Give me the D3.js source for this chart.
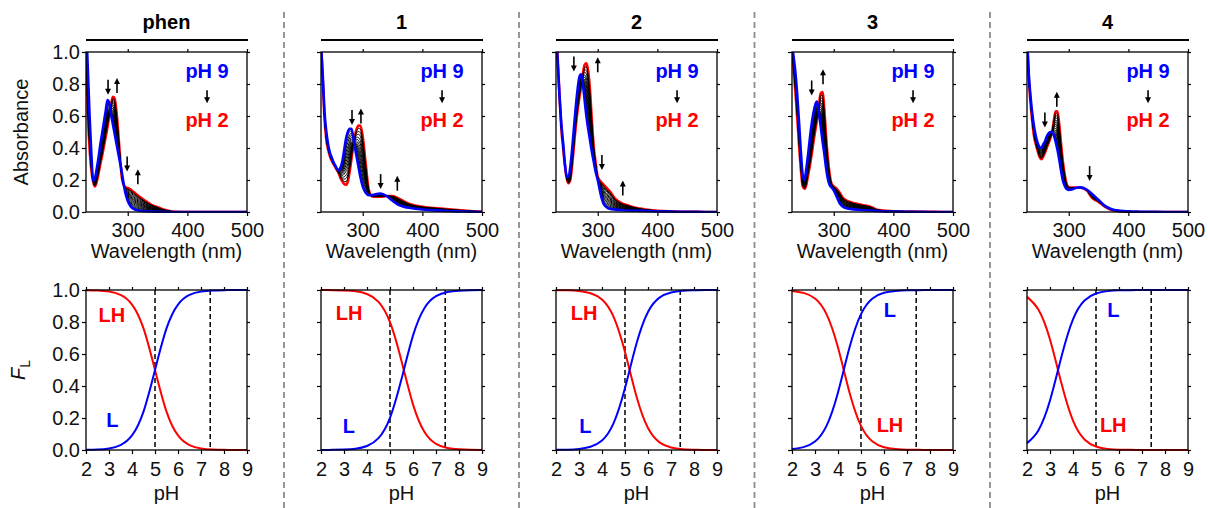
<!DOCTYPE html>
<html>
<head>
<meta charset="utf-8">
<script src="https://cdn.jsdelivr.net/npm/d3@7"></script>
<style>
  body { margin: 0; background: #fff; }
  svg text { font-family: "Liberation Sans", Arial, sans-serif; }
</style>
</head>
<body>
<svg id="chart" width="1208" height="508"></svg>
<script>

// ---- data ----
var panelTitles = ['phen', '1', '2', '3', '4'];

var wavelengths = [230, 233, 236, 239, 242, 245, 248, 251, 254, 257, 260, 263, 266, 269, 272, 275, 278, 281, 284, 287,
  290, 293, 296, 300, 305, 310, 315, 320, 330, 340, 350, 360, 370, 380, 400, 420, 440, 460, 480, 500];

// absorbance at pH 9 (blue) and pH 2 (red)
var absPhenPH9 = [1.20, 0.90, 0.60, 0.36, 0.195, 0.21, 0.27, 0.34, 0.42, 0.49, 0.56, 0.63, 0.70, 0.68, 0.61, 0.55, 0.49, 0.43, 0.37, 0.31,
  0.25, 0.18, 0.12, 0.07, 0.035, 0.02, 0.012, 0.008, 0.005, 0.003, 0.002, 0.001, 0, 0, 0, 0, 0, 0, 0, 0];
var absPhenPH2 = [1.05, 0.62, 0.40, 0.26, 0.19, 0.16, 0.19, 0.24, 0.30, 0.35, 0.41, 0.47, 0.53, 0.60, 0.67, 0.72, 0.71, 0.63, 0.50, 0.35,
  0.22, 0.17, 0.155, 0.15, 0.14, 0.125, 0.11, 0.095, 0.068, 0.045, 0.03, 0.015, 0.006, 0.002, 0, 0, 0, 0, 0, 0];

var abs1PH9 = [1.05, 0.85, 0.62, 0.50, 0.42, 0.37, 0.34, 0.31, 0.29, 0.27, 0.26, 0.28, 0.32, 0.39, 0.46, 0.50, 0.52, 0.52, 0.47, 0.40,
  0.34, 0.28, 0.22, 0.16, 0.12, 0.105, 0.105, 0.11, 0.115, 0.10, 0.07, 0.045, 0.032, 0.025, 0.016, 0.010, 0.006, 0.004, 0.002, 0];
var abs1PH2 = [1.05, 0.82, 0.58, 0.45, 0.39, 0.35, 0.32, 0.30, 0.28, 0.26, 0.24, 0.21, 0.19, 0.175, 0.17, 0.19, 0.25, 0.33, 0.41, 0.48,
  0.52, 0.54, 0.54, 0.47, 0.30, 0.14, 0.10, 0.095, 0.095, 0.10, 0.10, 0.085, 0.065, 0.048, 0.032, 0.025, 0.018, 0.012, 0.006, 0.002];

var abs2PH9 = [1.15, 0.92, 0.72, 0.55, 0.43, 0.30, 0.22, 0.22, 0.28, 0.39, 0.52, 0.65, 0.76, 0.84, 0.86, 0.80, 0.70, 0.60, 0.52, 0.45,
  0.38, 0.32, 0.26, 0.20, 0.11, 0.05, 0.03, 0.02, 0.015, 0.012, 0.009, 0.008, 0.007, 0.006, 0.004, 0.003, 0.002, 0.001, 0, 0];
var abs2PH2 = [1.20, 0.95, 0.72, 0.52, 0.40, 0.29, 0.21, 0.18, 0.20, 0.29, 0.41, 0.53, 0.63, 0.71, 0.78, 0.86, 0.92, 0.93, 0.88, 0.76,
  0.58, 0.42, 0.32, 0.22, 0.19, 0.17, 0.15, 0.13, 0.08, 0.055, 0.042, 0.03, 0.022, 0.015, 0.008, 0.004, 0.002, 0.001, 0, 0];

var abs3PH9 = [1.05, 0.96, 0.86, 0.72, 0.55, 0.37, 0.23, 0.20, 0.27, 0.36, 0.46, 0.55, 0.62, 0.67, 0.69, 0.62, 0.54, 0.45, 0.37, 0.28,
  0.21, 0.17, 0.155, 0.135, 0.095, 0.055, 0.035, 0.025, 0.018, 0.014, 0.011, 0.009, 0.007, 0.005, 0.003, 0.002, 0.001, 0, 0, 0];
var abs3PH2 = [1.00, 0.88, 0.74, 0.58, 0.41, 0.26, 0.16, 0.145, 0.17, 0.23, 0.29, 0.36, 0.44, 0.51, 0.58, 0.66, 0.74, 0.75, 0.65, 0.48,
  0.34, 0.24, 0.18, 0.16, 0.145, 0.12, 0.09, 0.075, 0.06, 0.05, 0.042, 0.035, 0.018, 0.01, 0.005, 0.003, 0.002, 0.001, 0, 0];

var abs4PH9 = [1.10, 0.86, 0.72, 0.61, 0.53, 0.47, 0.43, 0.405, 0.40, 0.42, 0.44, 0.47, 0.49, 0.50, 0.50, 0.48, 0.44, 0.39, 0.33, 0.26,
  0.20, 0.165, 0.145, 0.138, 0.14, 0.148, 0.153, 0.154, 0.14, 0.11, 0.075, 0.04, 0.02, 0.01, 0.004, 0.002, 0.001, 0, 0, 0];
var abs4PH2 = [1.10, 0.84, 0.68, 0.56, 0.47, 0.42, 0.38, 0.345, 0.33, 0.345, 0.37, 0.40, 0.43, 0.46, 0.50, 0.57, 0.63, 0.63, 0.55, 0.43,
  0.32, 0.24, 0.18, 0.155, 0.153, 0.153, 0.153, 0.152, 0.135, 0.085, 0.063, 0.035, 0.015, 0.007, 0.002, 0, 0, 0, 0, 0];

// share of the pH 2 spectrum in the intermediate (black) titration spectra
var titrationMix = [0.07, 0.14, 0.21, 0.29, 0.36, 0.43, 0.5, 0.57, 0.64, 0.71, 0.79, 0.86, 0.93];

// fraction of species vs pH
var phValues = [2, 2.5, 3, 3.5, 4, 4.5, 5, 5.5, 6, 6.5, 7, 7.5, 8, 8.5, 9];
var fracLPhen = [0.001, 0.003, 0.010, 0.031, 0.091, 0.240, 0.500, 0.760, 0.909, 0.969, 0.990, 0.997, 0.999, 1.000, 1.000];
var fracLHPhen = [0.999, 0.997, 0.990, 0.969, 0.909, 0.760, 0.500, 0.240, 0.091, 0.031, 0.010, 0.003, 0.001, 0.000, 0.000];
var fracL1 = [0.000, 0.001, 0.003, 0.008, 0.025, 0.074, 0.201, 0.443, 0.715, 0.888, 0.962, 0.988, 0.996, 0.999, 1.000];
var fracLH1 = [1.000, 0.999, 0.997, 0.992, 0.975, 0.926, 0.799, 0.557, 0.285, 0.112, 0.038, 0.012, 0.004, 0.001, 0.000];
var fracL2 = [0.001, 0.002, 0.006, 0.020, 0.059, 0.166, 0.387, 0.666, 0.863, 0.952, 0.984, 0.995, 0.998, 1.000, 1.000];
var fracLH2 = [0.999, 0.998, 0.994, 0.980, 0.941, 0.834, 0.613, 0.334, 0.137, 0.048, 0.016, 0.005, 0.002, 0.000, 0.000];
var fracL3 = [0.006, 0.018, 0.053, 0.151, 0.360, 0.640, 0.849, 0.947, 0.983, 0.994, 0.998, 0.999, 1.000, 1.000, 1.000];
var fracLH3 = [0.994, 0.982, 0.947, 0.849, 0.640, 0.360, 0.151, 0.053, 0.017, 0.006, 0.002, 0.001, 0.000, 0.000, 0.000];
var fracL4 = [0.043, 0.124, 0.309, 0.585, 0.817, 0.934, 0.978, 0.993, 0.998, 0.999, 1.000, 1.000, 1.000, 1.000, 1.000];
var fracLH4 = [0.957, 0.876, 0.691, 0.415, 0.183, 0.066, 0.022, 0.007, 0.002, 0.001, 0.000, 0.000, 0.000, 0.000, 0.000];

var markerPH = [5.0, 7.4];   // dashed reference lines

// ticks
var wlTicks = [300, 400, 500];
var absTicks = [0, 0.2, 0.4, 0.6, 0.8, 1.0];
var phTicks = [2, 3, 4, 5, 6, 7, 8, 9];
var fracTicks = [0, 0.2, 0.4, 0.6, 0.8, 1.0];

// trend arrows on spectra: [wavelength, absorbance, direction]
var arrowsPhen = [[267, 0.78, -1], [282, 0.79, 1], [299, 0.30, -1], [317, 0.22, 1]];
var arrows1 = [[282, 0.59, -1], [297, 0.60, 1], [330, 0.19, -1], [358, 0.18, 1]];
var arrows2 = [[260, 0.925, -1], [300, 0.92, 1], [307, 0.31, -1], [342, 0.15, 1]];
var arrows3 = [[263, 0.775, -1], [282, 0.845, 1]];
var arrows4 = [[260, 0.575, -1], [280, 0.705, 1], [335, 0.24, -1]];

// species labels: [pH, F]
var labelL = [[3.15, 0.146], [3.21, 0.104], [3.28, 0.104], [6.25, 0.833], [5.75, 0.833]];
var labelLH = [[3.12, 0.80], [3.22, 0.81], [3.22, 0.81], [6.26, 0.114], [5.75, 0.114]];

var panels = [
  { pH9: absPhenPH9, pH2: absPhenPH2, L: fracLPhen, LH: fracLHPhen, arrows: arrowsPhen },
  { pH9: abs1PH9, pH2: abs1PH2, L: fracL1, LH: fracLH1, arrows: arrows1 },
  { pH9: abs2PH9, pH2: abs2PH2, L: fracL2, LH: fracLH2, arrows: arrows2 },
  { pH9: abs3PH9, pH2: abs3PH2, L: fracL3, LH: fracLH3, arrows: arrows3 },
  { pH9: abs4PH9, pH2: abs4PH2, L: fracL4, LH: fracLH4, arrows: arrows4 }
];

// ---- layout ----
var panelLeft = [86, 321, 556, 792, 1027];
var plotW = 161;
var topY = [52, 212];
var botY = [290, 450];

var svg = d3.select('#chart');
var BLUE = '#0000ff', RED = '#ff0000';

// dashed separators between panels
for (var s = 1; s < panelLeft.length; s++) {
  var sx = (panelLeft[s - 1] + plotW + panelLeft[s]) / 2;
  svg.append('line')
    .attr('x1', sx).attr('x2', sx).attr('y1', 12).attr('y2', 508)
    .attr('stroke', '#8c8c8c').attr('stroke-width', 1.8)
    .attr('stroke-dasharray', '6,4');
}

function drawArrow(g, x, y, dir, len) {
  // dir -1 = pointing down, 1 = pointing up
  var half = len / 2;
  var tipY = y - dir * half;
  var tailY = y + dir * half;
  var headLen = 6;
  g.append('line')
    .attr('x1', x).attr('x2', x)
    .attr('y1', tailY).attr('y2', tipY + dir * headLen * 0.8)
    .attr('stroke', '#000').attr('stroke-width', 1.6);
  g.append('path')
    .attr('d', 'M' + x + ',' + tipY + 'L' + (x - 3) + ',' + (tipY + dir * headLen) + 'L' + (x + 3) + ',' + (tipY + dir * headLen) + 'Z')
    .attr('fill', '#000');
}

function styleAxis(g) {
  g.select('.domain').remove();
  g.selectAll('line').attr('stroke', '#000').attr('stroke-width', 1.2);
  g.selectAll('text').attr('font-size', 20).attr('fill', '#111')
    .attr('font-family', '"Liberation Sans", Arial, sans-serif');
}

panels.forEach(function (p, i) {
  var x0 = panelLeft[i];
  var g = svg.append('g');

  // ---------- top: absorption spectra ----------
  var xs = d3.scaleLinear().domain([230, 500]).range([x0, x0 + plotW]);
  var ya = d3.scaleLinear().domain([0, 1]).range([topY[1], topY[0]]);

  // title + bracket
  g.append('text').attr('x', x0 + plotW / 2).attr('y', 29)
    .attr('text-anchor', 'middle').attr('font-size', 20).attr('font-weight', 'bold')
    .text(panelTitles[i]);
  g.append('line').attr('x1', x0).attr('x2', x0 + plotW + 1).attr('y1', 40).attr('y2', 40)
    .attr('stroke', '#000').attr('stroke-width', 2);

  var clipId = 'clip' + i;
  svg.append('clipPath').attr('id', clipId).append('rect')
    .attr('x', x0).attr('y', topY[0]).attr('width', plotW).attr('height', topY[1] - topY[0] + 1);

  var specLine = d3.line()
    .x(function (d) { return xs(d[0]); })
    .y(function (d) { return ya(d[1]); })
    .curve(d3.curveMonotoneX);

  var spec = g.append('g').attr('clip-path', 'url(#' + clipId + ')');
  spec.append('path')
    .attr('d', specLine(wavelengths.map(function (w, k) { return [w, p.pH2[k]]; })))
    .attr('fill', 'none').attr('stroke', RED).attr('stroke-width', 2.6);
  titrationMix.forEach(function (f) {
    spec.append('path')
      .attr('d', specLine(wavelengths.map(function (w, k) { return [w, p.pH9[k] * (1 - f) + p.pH2[k] * f]; })))
      .attr('fill', 'none').attr('stroke', '#000').attr('stroke-width', 1);
  });
  spec.append('path')
    .attr('d', specLine(wavelengths.map(function (w, k) { return [w, p.pH9[k]]; })))
    .attr('fill', 'none').attr('stroke', BLUE).attr('stroke-width', 2.6);

  g.append('rect').attr('x', x0).attr('y', topY[0]).attr('width', plotW).attr('height', topY[1] - topY[0])
    .attr('fill', 'none').attr('stroke', '#000').attr('stroke-width', 1.3);

  g.append('g').attr('transform', 'translate(0,' + topY[1] + ')')
    .call(d3.axisBottom(xs).tickValues(wlTicks).tickSize(4).tickPadding(7).tickFormat(d3.format('d')))
    .call(styleAxis);
  g.append('g').attr('transform', 'translate(' + x0 + ',0)')
    .call(d3.axisLeft(ya).tickValues(absTicks).tickSize(4).tickPadding(2)
      .tickFormat(i === 0 ? d3.format('.1f') : function () { return ''; }))
    .call(styleAxis);
  g.append('g').attr('transform', 'translate(' + (x0 + plotW) + ',0)')
    .call(d3.axisRight(ya).tickValues(absTicks).tickSize(3).tickFormat(function () { return ''; }))
    .call(styleAxis);
  g.append('g').attr('transform', 'translate(0,' + topY[0] + ')')
    .call(d3.axisTop(xs).tickValues(wlTicks).tickSize(3).tickFormat(function () { return ''; }))
    .call(styleAxis);

  g.append('text').attr('x', x0 + plotW / 2).attr('y', 258)
    .attr('text-anchor', 'middle').attr('font-size', 20).attr('fill', '#111')
    .text('Wavelength (nm)');

  p.arrows.forEach(function (a) {
    drawArrow(g, xs(a[0]), ya(a[1]), a[2], 15);
  });

  // pH 9 -> pH 2 legend
  g.append('text').attr('x', xs(433)).attr('y', ya(0.835))
    .attr('text-anchor', 'middle').attr('font-size', 20).attr('font-weight', 'bold')
    .attr('fill', BLUE).text('pH 9');
  drawArrow(g, xs(433), ya(0.72), -1, 13);
  g.append('text').attr('x', xs(433)).attr('y', ya(0.533))
    .attr('text-anchor', 'middle').attr('font-size', 20).attr('font-weight', 'bold')
    .attr('fill', RED).text('pH 2');

  // ---------- bottom: species fractions ----------
  var xp = d3.scaleLinear().domain([2, 9]).range([x0, x0 + plotW]);
  var yf = d3.scaleLinear().domain([0, 1]).range([botY[1], botY[0]]);

  var fracLine = d3.line()
    .x(function (d) { return xp(d[0]); })
    .y(function (d) { return yf(d[1]); })
    .curve(d3.curveNatural);

  markerPH.forEach(function (v) {
    g.append('line').attr('x1', xp(v)).attr('x2', xp(v)).attr('y1', botY[0]).attr('y2', botY[1])
      .attr('stroke', '#000').attr('stroke-width', 1.5).attr('stroke-dasharray', '5,3');
  });

  g.append('path')
    .attr('d', fracLine(phValues.map(function (v, k) { return [v, p.LH[k]]; })))
    .attr('fill', 'none').attr('stroke', RED).attr('stroke-width', 2);
  g.append('path')
    .attr('d', fracLine(phValues.map(function (v, k) { return [v, p.L[k]]; })))
    .attr('fill', 'none').attr('stroke', BLUE).attr('stroke-width', 2);

  g.append('rect').attr('x', x0).attr('y', botY[0]).attr('width', plotW).attr('height', botY[1] - botY[0])
    .attr('fill', 'none').attr('stroke', '#000').attr('stroke-width', 1.3);

  g.append('g').attr('transform', 'translate(0,' + botY[1] + ')')
    .call(d3.axisBottom(xp).tickValues(phTicks).tickSize(4).tickPadding(8).tickFormat(d3.format('d')))
    .call(styleAxis);
  g.append('g').attr('transform', 'translate(' + x0 + ',0)')
    .call(d3.axisLeft(yf).tickValues(fracTicks).tickSize(4).tickPadding(2)
      .tickFormat(i === 0 ? d3.format('.1f') : function () { return ''; }))
    .call(styleAxis);
  g.append('g').attr('transform', 'translate(' + (x0 + plotW) + ',0)')
    .call(d3.axisRight(yf).tickValues(fracTicks).tickSize(3).tickFormat(function () { return ''; }))
    .call(styleAxis);
  g.append('g').attr('transform', 'translate(0,' + botY[0] + ')')
    .call(d3.axisTop(xp).tickValues(phTicks).tickSize(3).tickFormat(function () { return ''; }))
    .call(styleAxis);

  g.append('text').attr('x', x0 + plotW / 2).attr('y', 500)
    .attr('text-anchor', 'middle').attr('font-size', 20).attr('fill', '#111')
    .text('pH');

  g.append('text').attr('x', xp(labelLH[i][0])).attr('y', yf(labelLH[i][1]))
    .attr('text-anchor', 'middle').attr('font-size', 20).attr('font-weight', 'bold')
    .attr('fill', RED).text('LH');
  g.append('text').attr('x', xp(labelL[i][0])).attr('y', yf(labelL[i][1]))
    .attr('text-anchor', 'middle').attr('font-size', 20).attr('font-weight', 'bold')
    .attr('fill', BLUE).text('L');
});

// y axis titles
svg.append('text')
  .attr('transform', 'translate(28,' + (topY[0] + topY[1]) / 2 + ') rotate(-90)')
  .attr('text-anchor', 'middle').attr('font-size', 20).attr('fill', '#111')
  .text('Absorbance');

var fl = svg.append('text')
  .attr('transform', 'translate(25,' + (botY[0] + botY[1]) / 2 + ') rotate(-90)')
  .attr('text-anchor', 'middle').attr('font-size', 20).attr('fill', '#111');
fl.append('tspan').attr('font-style', 'italic').text('F');
fl.append('tspan').attr('font-size', 14).attr('dy', 5).text('L');

</script>
</body>
</html>
